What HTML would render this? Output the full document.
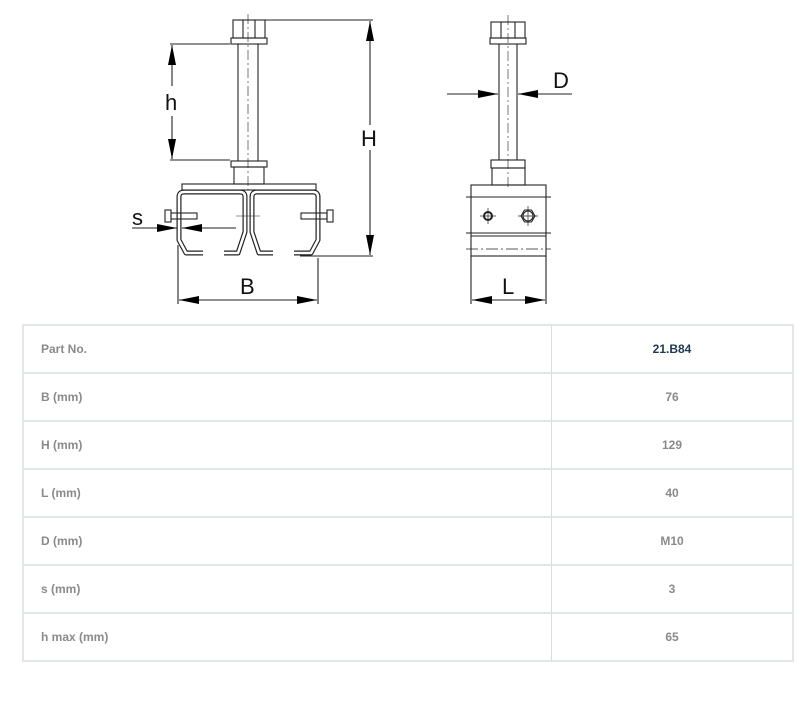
<!DOCTYPE html>
<html><head><meta charset="utf-8"><style>
body{margin:0;background:#fff;width:800px;height:711px;overflow:hidden;font-family:"Liberation Sans",sans-serif;}
svg{position:absolute;left:0;top:0}
table{position:absolute;left:22px;top:324px;width:772px;border-collapse:collapse;}
td{border:2px solid #e3e6e8;height:46px;font-size:12px;font-weight:bold;color:#8a8a8a;padding:0;}
td.l{width:510px;padding-left:17px;border-right:1px solid #d3dde3;}
td.r{text-align:center;border-left:1px solid #d3dde3;}
td.h{color:#1d3a4f;}
</style></head><body>
<svg width="800" height="320" viewBox="0 0 800 320" font-family="Liberation Sans, sans-serif">
<defs>
<marker id="a" viewBox="0 0 20 8" refX="20" refY="4" markerWidth="20" markerHeight="8" orient="auto-start-reverse" markerUnits="userSpaceOnUse"><path d="M0,0L20,4L0,8z" fill="#000"/></marker>
</defs>
<g fill="none" stroke="#222" stroke-width="1.1">
<rect x="233" y="20" width="32" height="18"/>
<line x1="243" y1="20" x2="243" y2="38"/><line x1="255" y1="20" x2="255" y2="38"/>
<rect x="231" y="38" width="36" height="6"/>
<line x1="238" y1="44" x2="238" y2="161"/><line x1="258" y1="44" x2="258" y2="161"/>
<line x1="248" y1="14" x2="248" y2="190" stroke-dasharray="10,3,2,3" stroke-width="0.6"/>
<rect x="231" y="161" width="36" height="6"/>
<rect x="234" y="167" width="30" height="17"/>
<rect x="182" y="184" width="134" height="6"/>
<g stroke-linejoin="round">
<path d="M203,253 L186,253 L179,240 L179,197 Q179,192 184,192 L240,192 Q245,192 245,197 L245,232 L238,253 L224,253" stroke="#222" stroke-width="5"/>
<path d="M203,253 L186,253 L179,240 L179,197 Q179,192 184,192 L240,192 Q245,192 245,197 L245,232 L238,253 L224,253" stroke="#fff" stroke-width="2.6"/>
<path d="M294,253 L311,253 L318,240 L318,197 Q318,192 313,192 L257,192 Q252,192 252,197 L252,232 L259,253 L273,253" stroke="#222" stroke-width="5"/>
<path d="M294,253 L311,253 L318,240 L318,197 Q318,192 313,192 L257,192 Q252,192 252,197 L252,232 L259,253 L273,253" stroke="#fff" stroke-width="2.6"/>
</g>
<rect x="165" y="210" width="6" height="12"/><rect x="171" y="213" width="26" height="6"/>
<rect x="327" y="210" width="6" height="12"/><rect x="301" y="213" width="26" height="6"/>
<line x1="236" y1="216" x2="260" y2="216" stroke-width="0.6"/>
<line x1="170" y1="44" x2="230" y2="44"/><line x1="170" y1="160" x2="230" y2="160"/>
<line x1="172" y1="45" x2="172" y2="86" marker-start="url(#a)"/><line x1="172" y1="116" x2="172" y2="159" marker-end="url(#a)"/>
<line x1="265" y1="20" x2="373" y2="20"/><line x1="300" y1="256" x2="373" y2="256"/>
<line x1="370" y1="21" x2="370" y2="125" marker-start="url(#a)"/><line x1="370" y1="150" x2="370" y2="255" marker-end="url(#a)"/>
<line x1="178" y1="245" x2="178" y2="304"/><line x1="318" y1="258" x2="318" y2="304"/>
<line x1="179" y1="300" x2="317" y2="300" marker-start="url(#a)" marker-end="url(#a)"/>
<line x1="132" y1="228" x2="177" y2="228" marker-end="url(#a)"/>
<line x1="236" y1="228" x2="182" y2="228" marker-end="url(#a)"/>
<rect x="491" y="22" width="34" height="16"/><line x1="501" y1="22" x2="501" y2="38"/><line x1="515" y1="22" x2="515" y2="38"/>
<rect x="490" y="38" width="36" height="6"/>
<line x1="499" y1="44" x2="499" y2="160"/><line x1="517" y1="44" x2="517" y2="160"/>
<line x1="508" y1="15" x2="508" y2="190" stroke-dasharray="10,3,2,3" stroke-width="0.6"/>
<rect x="491" y="160" width="34" height="8"/><rect x="492" y="168" width="33" height="17"/>
<rect x="471" y="185" width="75" height="71"/>
<line x1="466" y1="197" x2="551" y2="197"/>
<line x1="466" y1="233" x2="551" y2="233"/><line x1="471" y1="236" x2="546" y2="236"/>
<line x1="466" y1="249" x2="551" y2="249" stroke-dasharray="12,3,2,3" stroke-width="0.7"/>
<circle cx="488" cy="216" r="4" stroke-width="2"/><line x1="480" y1="216" x2="496" y2="216" stroke-width="0.7"/><line x1="488" y1="208" x2="488" y2="224" stroke-width="0.7"/>
<polygon points="521,216 524.5,210 531.5,210 535,216 531.5,222 524.5,222"/><circle cx="528" cy="216" r="5"/><line x1="518" y1="216" x2="538" y2="216" stroke-width="0.7"/><line x1="528" y1="206" x2="528" y2="226" stroke-width="0.7"/>
<line x1="447" y1="94" x2="498" y2="94" marker-end="url(#a)"/><line x1="572" y1="94" x2="518" y2="94" marker-end="url(#a)"/>
<line x1="471" y1="256" x2="471" y2="304"/><line x1="546" y1="256" x2="546" y2="304"/>
<line x1="472" y1="300" x2="545" y2="300" marker-start="url(#a)" marker-end="url(#a)"/>
</g>
<g font-size="22" fill="#111">
<text x="165" y="110">h</text>
<text x="361" y="146">H</text>
<text x="240" y="294">B</text>
<text x="132" y="225">s</text>
<text x="553" y="88">D</text>
<text x="502" y="294">L</text>
</g>
</svg>
<table>
<tr><td class="l">Part No.</td><td class="r h">21.B84</td></tr>
<tr><td class="l">B (mm)</td><td class="r">76</td></tr>
<tr><td class="l">H (mm)</td><td class="r">129</td></tr>
<tr><td class="l">L (mm)</td><td class="r">40</td></tr>
<tr><td class="l">D (mm)</td><td class="r">M10</td></tr>
<tr><td class="l">s (mm)</td><td class="r">3</td></tr>
<tr><td class="l">h max (mm)</td><td class="r">65</td></tr>
</table>
</body></html>
